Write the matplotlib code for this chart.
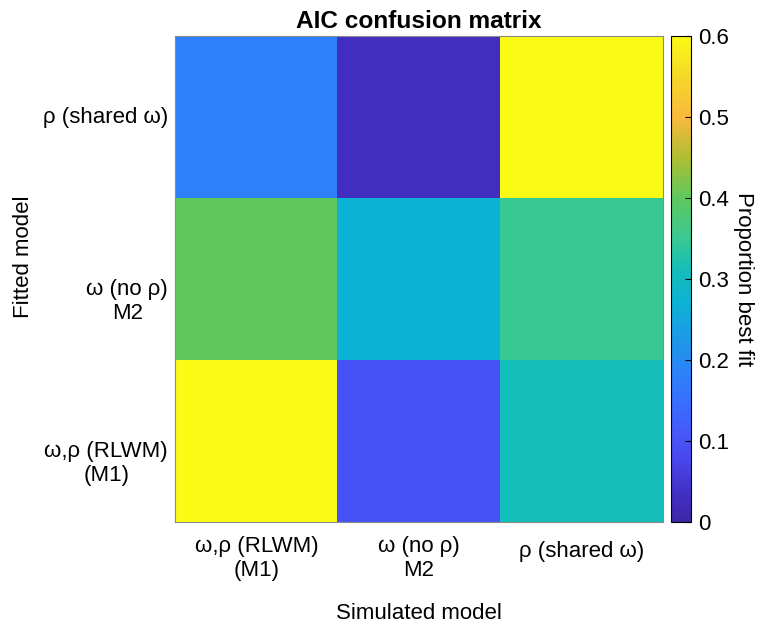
import numpy as np
import matplotlib
matplotlib.use('Agg')
import matplotlib.pyplot as plt
import matplotlib.transforms as mtransforms
from matplotlib.colors import LinearSegmentedColormap

# Model names (simulated along x, fitted along y, bottom to top)
simulated_labels = ['ω,ρ (RLWM)\n(M1)', 'ω (no ρ)\nM2', 'ρ (shared ω)']
fitted_labels = ['ω,ρ (RLWM)\n(M1)', 'ω (no ρ)\nM2', 'ρ (shared ω)']

# Proportion best fit, rows = fitted model (M1, M2, rho), cols = simulated model
fit_m1 = [0.60, 0.10, 0.31]
fit_m2 = [0.40, 0.27, 0.35]
fit_rho = [0.18, 0.03, 0.79]

clim = (0, 0.6)
cbar_ticks = [0, 0.1, 0.2, 0.3, 0.4, 0.5, 0.6]
cbar_ticklabels = ['0', '0.1', '0.2', '0.3', '0.4', '0.5', '0.6']

FS = 16


def parula_like():
    """Rough stand-in for MATLAB's parula colormap"""
    anchors = [
        (0.000, (62, 38, 168)),
        (0.060, (66, 48, 198)),
        (0.125, (72, 70, 236)),
        (0.180, (70, 88, 250)),
        (0.250, (55, 112, 254)),
        (0.300, (45, 128, 250)),
        (0.375, (30, 152, 232)),
        (0.450, (12, 178, 213)),
        (0.520, (20, 190, 185)),
        (0.580, (55, 200, 150)),
        (0.667, (95, 200, 95)),
        (0.750, (175, 190, 50)),
        (0.833, (250, 185, 60)),
        (0.917, (245, 215, 40)),
        (1.000, (249, 251, 20)),
    ]
    return LinearSegmentedColormap.from_list(
        'parula_like', [(p, tuple(c / 255 for c in rgb)) for p, rgb in anchors], N=256)


plt.rcParams['font.family'] = ['Liberation Sans', 'DejaVu Sans']

data = np.array([fit_m1, fit_m2, fit_rho])

fig = plt.figure(figsize=(7.63, 6.31), dpi=100)
ax = fig.add_axes([175 / 763, 109 / 631, 488 / 763, 486 / 631])
cax = fig.add_axes([671 / 763, 109 / 631, 20 / 763, 486 / 631])

im = ax.imshow(data, cmap=parula_like(), vmin=clim[0], vmax=clim[1],
               origin='lower', aspect='auto', interpolation='nearest')

ax.set_xticks(range(len(simulated_labels)))
ax.set_xticklabels(simulated_labels, fontsize=FS, ma='center')
ax.set_yticks(range(len(fitted_labels)))
ax.set_yticklabels(fitted_labels, fontsize=FS, ma='center')
ax.tick_params(axis='both', length=0)
ax.tick_params(axis='x', pad=10)
ax.tick_params(axis='y', pad=5)

# MATLAB-ish placement: two-line labels hang from the tick, single ones sit a bit lower
for lab, txt in zip(ax.get_yticklabels(), fitted_labels):
    lab.set_va('top' if '\n' in txt else 'center')
shift = mtransforms.ScaledTranslation(0, -5 / 100, fig.dpi_scale_trans)
for lab, txt in zip(ax.get_xticklabels(), simulated_labels):
    if '\n' not in txt:
        lab.set_transform(lab.get_transform() + shift)

for s in ax.spines.values():
    s.set_color('#8a8a8a')
    s.set_linewidth(0.8)

ax.set_title('AIC confusion matrix', fontsize=FS * 1.1, fontweight='bold', pad=6)
ax.set_xlabel('Simulated model', fontsize=FS)
ax.xaxis.set_label_coords(0.5, -0.167)
ax.set_ylabel('Fitted model', fontsize=FS)
ax.yaxis.set_label_coords(-0.289, 0.545)

cb = fig.colorbar(im, cax=cax, ticks=cbar_ticks)
cb.ax.tick_params(direction='in', length=4, width=0.8, labelsize=FS, pad=5)
cb.set_ticklabels(cbar_ticklabels)
cb.outline.set_linewidth(0.8)
cb.set_label('Proportion best fit', fontsize=FS, rotation=270, labelpad=18)

fig.savefig('out.png', dpi=100)
plt.close(fig)
